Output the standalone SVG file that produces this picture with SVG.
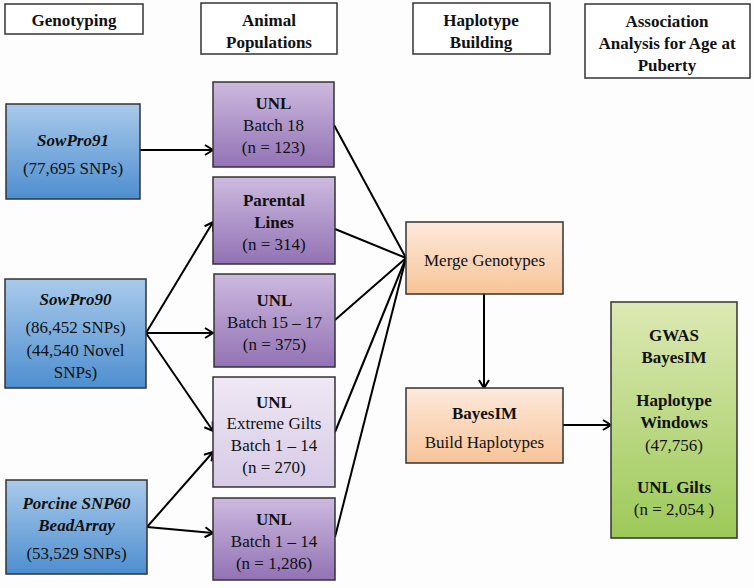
<svg xmlns="http://www.w3.org/2000/svg" width="754" height="588" viewBox="0 0 754 588">
<defs>
<linearGradient id="gBlue" x1="0" y1="0" x2="0" y2="1"><stop offset="0" stop-color="#a9caeb"/><stop offset="1" stop-color="#4e8ecf"/></linearGradient>
<linearGradient id="gPurple" x1="0" y1="0" x2="0" y2="1"><stop offset="0" stop-color="#cdbadf"/><stop offset="1" stop-color="#9272b4"/></linearGradient>
<linearGradient id="gLilac" x1="0" y1="0" x2="0" y2="1"><stop offset="0" stop-color="#efe8f4"/><stop offset="1" stop-color="#d6cae6"/></linearGradient>
<linearGradient id="gOrange" x1="0" y1="0" x2="0" y2="1"><stop offset="0" stop-color="#fde9dc"/><stop offset="1" stop-color="#f8c498"/></linearGradient>
<linearGradient id="gGreen" x1="0" y1="0" x2="0" y2="1"><stop offset="0" stop-color="#dde9b4"/><stop offset="1" stop-color="#9cc958"/></linearGradient>
<marker id="arr" markerUnits="userSpaceOnUse" markerWidth="12" markerHeight="12" refX="9" refY="6" orient="auto">
<path d="M1,1 L9,6 L1,11" fill="none" stroke="#000" stroke-width="2"/>
</marker>
</defs>
<style>
text{font-family:"Liberation Serif","Times New Roman",serif;font-size:17px;fill:#111;text-anchor:middle}
.b{font-weight:bold}
.bi{font-weight:bold;font-style:italic}
.hdr{fill:#fff;stroke:#333;stroke-width:1.5}
.box{stroke:#333;stroke-width:1.5}
.con{stroke:#000;stroke-width:2;fill:none}
.arw{marker-end:url(#arr)}
</style>
<rect width="754" height="588" fill="#fdfdfd"/>

<g id="hdr-genotyping"><rect class="hdr" x="5" y="4" width="138" height="30"/><text class="b" x="74" y="26">Genotyping</text></g>
<g id="hdr-animal"><rect class="hdr" x="201" y="3" width="136" height="51"/><text class="b" x="269" y="26">Animal</text><text class="b" x="269" y="48">Populations</text></g>
<g id="hdr-haplotype"><rect class="hdr" x="413" y="3" width="137" height="51"/><text class="b" x="481" y="26">Haplotype</text><text class="b" x="481" y="48">Building</text></g>
<g id="hdr-association"><rect class="hdr" x="585" y="4" width="165" height="74"/><text class="b" x="667" y="27">Association</text><text class="b" x="667" y="49">Analysis for Age at</text><text class="b" x="667" y="71">Puberty</text></g>

<g id="connectors">
<line class="con arw" x1="140" y1="150" x2="213" y2="150"/>
<line class="con arw" x1="146" y1="333" x2="213" y2="222"/>
<line class="con arw" x1="146" y1="333" x2="213" y2="333"/>
<line class="con arw" x1="146" y1="333" x2="213" y2="431"/>
<line class="con arw" x1="147" y1="527" x2="213" y2="452"/>
<line class="con arw" x1="147" y1="527" x2="213" y2="533"/>
<line class="con" x1="334" y1="125" x2="406" y2="258"/>
<line class="con" x1="335" y1="229" x2="406" y2="258"/>
<line class="con" x1="335" y1="320" x2="406" y2="258"/>
<line class="con" x1="335" y1="432" x2="406" y2="258"/>
<line class="con" x1="335" y1="537" x2="406" y2="258"/>
<line class="con arw" x1="484" y1="294" x2="484" y2="388"/>
<line class="con arw" x1="563" y1="425" x2="611" y2="425"/>
</g>

<g id="sowpro91"><rect class="box" x="6" y="104" width="134" height="95" fill="url(#gBlue)"/><text class="bi" x="73" y="146">SowPro91</text><text x="73" y="174">(77,695 SNPs)</text></g>
<g id="sowpro90"><rect class="box" x="5" y="279" width="141" height="109" fill="url(#gBlue)"/><text class="bi" x="75.5" y="305">SowPro90</text><text x="75.5" y="333">(86,452 SNPs)</text><text x="75.5" y="356">(44,540 Novel</text><text x="75.5" y="378">SNPs)</text></g>
<g id="porcine"><rect class="box" x="6" y="480" width="141" height="94" fill="url(#gBlue)"/><text class="bi" x="76.5" y="509">Porcine SNP60</text><text class="bi" x="76.5" y="531">BeadArray</text><text x="76.5" y="559">(53,529 SNPs)</text></g>

<g id="unl-batch18"><rect class="box" x="213" y="82" width="121" height="85" fill="url(#gPurple)"/><text class="b" x="273.5" y="109">UNL</text><text x="273.5" y="131">Batch 18</text><text x="273.5" y="153">(n = 123)</text></g>
<g id="parental-lines"><rect class="box" x="213" y="177" width="122" height="87" fill="url(#gPurple)"/><text class="b" x="274" y="206">Parental</text><text class="b" x="274" y="228">Lines</text><text x="274" y="250">(n = 314)</text></g>
<g id="unl-batch15-17"><rect class="box" x="214" y="274" width="121" height="93" fill="url(#gPurple)"/><text class="b" x="274.5" y="306">UNL</text><text x="274.5" y="328">Batch 15 – 17</text><text x="274.5" y="350">(n = 375)</text></g>
<g id="unl-extreme"><rect class="box" x="213" y="377" width="122" height="110" fill="url(#gLilac)"/><text class="b" x="274" y="408">UNL</text><text x="274" y="429">Extreme Gilts</text><text x="274" y="451">Batch 1 – 14</text><text x="274" y="473">(n = 270)</text></g>
<g id="unl-batch1-14"><rect class="box" x="213" y="498" width="122" height="82" fill="url(#gPurple)"/><text class="b" x="274" y="525">UNL</text><text x="274" y="547">Batch 1 – 14</text><text x="274" y="569">(n = 1,286)</text></g>

<g id="merge"><rect class="box" x="406" y="222" width="157" height="72" fill="url(#gOrange)"/><text x="484.5" y="266">Merge Genotypes</text></g>
<g id="bayesim-build"><rect class="box" x="406" y="388" width="157" height="75" fill="url(#gOrange)"/><text class="b" x="484.5" y="419">BayesIM</text><text x="484.5" y="448">Build Haplotypes</text></g>

<g id="gwas"><rect class="box" x="611" y="302" width="126" height="236" fill="url(#gGreen)"/><text class="b" x="674" y="341">GWAS</text><text class="b" x="674" y="363">BayesIM</text><text class="b" x="674" y="406">Haplotype</text><text class="b" x="674" y="428">Windows</text><text x="674" y="451">(47,756)</text><text class="b" x="674" y="493">UNL Gilts</text><text x="674" y="515">(n = 2,054 )</text></g>
</svg>
